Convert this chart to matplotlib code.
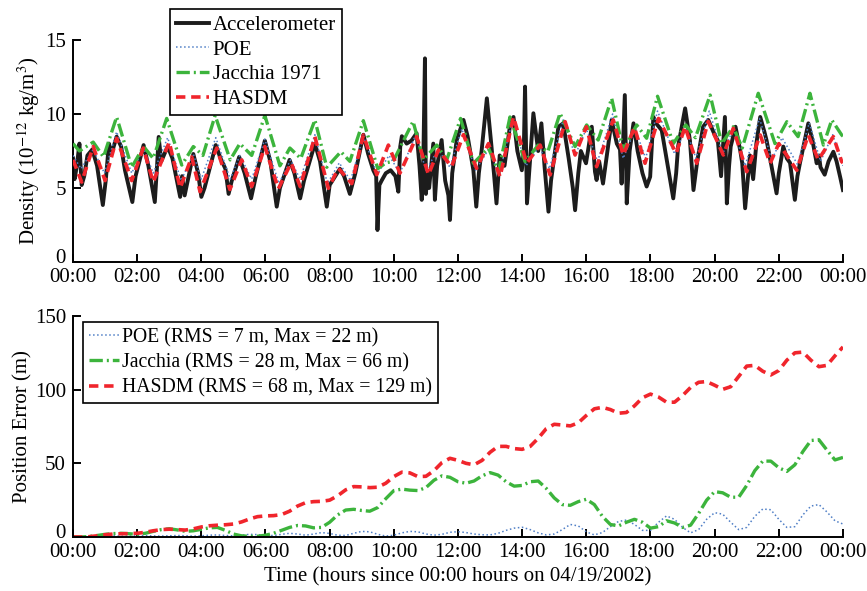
import numpy as np
import matplotlib.pyplot as plt
from matplotlib.transforms import ScaledTranslation

plt.rcParams['font.family'] = ['Liberation Serif', 'DejaVu Serif']
plt.rcParams['mathtext.fontset'] = 'stix'
plt.rcParams['font.size'] = 15

# ---- top panel: density along the orbit (hours, 1e-12 kg/m^3) ----
acc_t = [0.0, 0.05, 0.12, 0.2, 0.27, 0.35, 0.45, 0.6, 0.75, 0.93, 1.02, 1.12, 1.2, 1.36, 1.5,
         1.62, 1.75, 1.85, 1.95, 2.2, 2.35, 2.55, 2.62, 2.67, 2.75, 2.95, 3.1, 3.34, 3.4, 3.48,
         3.75, 3.9, 4.0, 4.1, 4.45, 4.6, 4.75, 4.85, 4.95, 5.18, 5.35, 5.55, 5.7, 5.98, 6.15,
         6.35, 6.45, 6.75, 6.9, 7.08, 7.2, 7.54, 7.7, 7.91, 8.0, 8.32, 8.45, 8.63, 8.8, 9.05,
         9.2, 9.36, 9.45, 9.49, 9.55, 9.62, 9.75, 9.9, 10.05, 10.14, 10.2, 10.25, 10.4, 10.55,
         10.71, 10.8, 10.87, 10.92, 10.97, 11.0, 11.05, 11.1, 11.23, 11.28, 11.35, 11.49, 11.6,
         11.7, 11.75, 11.82, 11.96, 12.17, 12.3, 12.48, 12.57, 12.65, 12.74, 12.9, 13.04, 13.12,
         13.2, 13.3, 13.45, 13.62, 13.73, 13.85, 13.99, 14.05, 14.09, 14.15, 14.25, 14.35, 14.5,
         14.6, 14.7, 14.82, 14.9, 15.13, 15.28, 15.45, 15.58, 15.65, 15.75, 15.83, 15.99, 16.17,
         16.27, 16.32, 16.4, 16.52, 16.79, 16.95, 17.05, 17.1, 17.2, 17.26, 17.35, 17.47, 17.6,
         17.75, 17.88, 17.99, 18.09, 18.2, 18.35, 18.5, 18.71, 18.8, 18.86, 19.08, 19.23, 19.34,
         19.45, 19.64, 19.8, 20.0, 20.1, 20.2, 20.32, 20.38, 20.45, 20.5, 20.65, 20.8, 20.86,
         20.95, 21.05, 21.1, 21.2, 21.3, 21.42, 21.55, 21.62, 21.77, 21.93, 22.0, 22.14, 22.25,
         22.35, 22.5, 22.58, 22.66, 22.92, 23.05, 23.18, 23.25, 23.3, 23.43, 23.55, 23.7, 23.8,
         23.91, 24.0]
acc_rho = [7.0, 5.6, 6.5, 8.0, 5.2, 5.8, 7.2, 7.6, 6.5, 3.85, 5.5, 8.0, 7.3, 8.47, 7.8,
           6.2, 5.0, 4.05, 5.8, 7.9, 6.5, 4.05, 6.5, 8.45, 6.8, 7.8, 7.0, 4.4, 5.8, 4.5,
           7.3, 6.0, 4.4, 5.0, 7.9, 7.0, 6.3, 4.6, 5.5, 7.1, 6.0, 4.3, 5.8, 8.2, 6.8,
           3.74, 5.0, 6.9, 6.0, 4.3, 5.5, 8.0, 6.8, 3.74, 5.2, 6.3, 5.8, 4.6, 6.0, 8.6,
           7.3, 6.2, 5.8, 2.16, 5.2, 5.5, 6.0, 6.2, 5.8, 4.75, 7.8, 8.5, 8.0, 8.2,
           8.7, 6.5, 4.2, 7.0, 13.76, 4.6, 6.0, 5.0, 8.0, 4.2, 6.5, 8.24, 5.5,
           4.5, 2.84, 6.0, 8.24, 9.6, 8.5, 6.2, 3.74, 6.0, 7.6, 11.06, 7.9, 6.0,
           3.96, 7.2, 6.5, 9.2, 9.8, 7.5, 6.2, 7.5, 11.85, 3.96, 7.0, 10.05, 7.5,
           9.37, 6.4, 3.4, 5.5, 9.14, 9.37, 7.0, 5.0, 3.5, 6.0, 7.5, 6.67, 9.14,
           6.1, 5.54, 6.8, 5.3, 9.6, 8.0, 7.6, 5.3, 11.28, 3.96, 7.5, 9.37, 7.5,
           6.0, 5.1, 5.76, 9.8, 9.3, 8.9, 7.0, 4.3, 6.0, 7.8, 10.38, 8.2, 4.86,
           6.7, 9.14, 9.6, 8.6, 8.2, 5.8, 9.8, 3.96, 6.5, 7.8, 9.14, 7.5, 6.67,
           3.63, 6.0, 7.2, 5.6, 8.0, 9.8, 8.8, 8.2, 6.5, 4.64, 6.0, 7.8, 7.0,
           6.7, 4.2, 5.8, 6.7, 9.37, 8.2, 6.67, 7.2, 6.4, 5.9, 6.8, 7.45, 6.8,
           5.76, 4.86]

poe_t = [0.0, 0.25, 0.63, 0.98, 1.36, 1.83, 2.2, 2.5, 2.95, 3.37, 3.75, 4.0, 4.45, 4.9, 5.2,
         5.57, 5.98, 6.42, 6.78, 7.08, 7.54, 7.93, 8.3, 8.65, 9.05, 9.48, 9.85, 10.19, 10.68,
         11.0, 11.38, 11.75, 12.12, 12.55, 12.95, 13.28, 13.7, 14.12, 14.53, 14.85, 15.28,
         15.65, 16.0, 16.35, 16.82, 17.15, 17.52, 17.85, 18.22, 18.75, 19.1, 19.42, 19.83,
         20.25, 20.58, 20.95, 21.4, 21.78, 22.1, 22.58, 22.95, 23.3, 23.68, 24.0]
poe_rho = [7.2, 6.3, 7.6, 6.0, 8.8, 6.0, 7.7, 6.0, 8.4, 5.5, 7.3, 5.6, 8.4, 5.6, 7.2,
           5.6, 8.3, 5.3, 6.9, 5.6, 8.6, 5.3, 6.7, 5.5, 8.5, 5.9, 7.2, 6.0, 8.6,
           6.2, 7.6, 6.4, 9.0, 6.2, 7.6, 5.9, 9.6, 6.5, 7.8, 6.3, 9.6,
           7.2, 9.0, 6.8, 10.0, 7.0, 9.0, 7.0, 10.2, 7.3, 9.0, 7.0, 10.2,
           7.3, 9.0, 6.5, 9.7, 6.9, 8.4, 6.6, 9.4, 6.8, 8.6, 6.5]

jac_t = [0.0, 0.2, 0.63, 0.95, 1.36, 1.83, 2.2, 2.5, 2.92, 3.39, 3.75, 4.05, 4.43, 4.9, 5.2,
         5.57, 5.98, 6.45, 6.76, 7.1, 7.54, 7.91, 8.35, 8.63, 9.05, 9.5, 9.75, 9.98, 10.6,
         10.92, 11.34, 11.65, 12.08, 12.48, 12.95, 13.26, 13.62, 14.09, 14.5, 14.8, 15.18,
         15.65, 16.01, 16.37, 16.79, 17.15, 17.57, 17.88, 18.22, 18.71, 19.1, 19.4, 19.86,
         20.22, 20.58, 20.86, 21.36, 21.88, 22.25, 22.6, 22.97, 23.39, 23.65, 23.96, 24.0]
jac_rho = [8.0, 7.5, 8.1, 7.1, 9.8, 6.4, 7.8, 7.0, 9.7, 6.55, 7.8, 7.2, 9.9, 6.9, 8.0,
           7.2, 9.9, 6.5, 7.7, 7.0, 9.6, 6.4, 7.45, 6.8, 9.55, 6.3, 6.7, 6.8, 9.5,
           6.9, 7.9, 6.9, 9.7, 6.67, 7.7, 6.1, 9.8, 6.78, 7.9, 7.45, 10.05,
           7.8, 9.26, 8.24, 11.06, 7.57, 9.26, 8.36, 11.2, 8.0, 9.26, 8.4, 11.28,
           8.0, 9.14, 7.7, 11.4, 8.0, 9.48, 8.47, 11.4, 7.9, 9.6, 8.58, 8.5]

has_t = [0.0, 0.27, 0.63, 1.0, 1.36, 1.83, 2.19, 2.5, 3.0, 3.34, 3.7, 3.96, 4.48, 4.89, 5.26,
         5.57, 5.98, 6.4, 6.8, 7.08, 7.54, 7.96, 8.27, 8.69, 9.05, 9.47, 9.83, 10.19, 10.71,
         11.08, 11.39, 11.8, 12.17, 12.58, 12.95, 13.31, 13.73, 14.14, 14.56, 14.87, 15.34,
         15.65, 16.0, 16.32, 16.84, 17.15, 17.5, 17.83, 18.25, 18.8, 19.08, 19.44, 19.8,
         20.27, 20.58, 21.0, 21.42, 21.73, 22.0, 22.56, 22.92, 23.23, 23.7, 23.96, 24.0]
has_rho = [6.9, 5.4, 7.8, 5.5, 8.36, 5.5, 7.7, 5.4, 8.1, 5.0, 7.1, 4.75, 7.7, 4.9, 6.9,
           5.1, 7.8, 4.95, 6.7, 5.1, 8.47, 4.98, 6.33, 5.3, 8.58, 5.9, 7.9, 6.0, 8.47,
           5.9, 7.57, 6.44, 8.6, 6.33, 8.0, 5.76, 9.8, 6.67, 7.9, 5.88, 9.48,
           7.23, 9.14, 6.44, 9.6, 7.23, 9.1, 6.67, 9.7, 7.34, 9.14, 6.67, 9.5,
           7.23, 9.03, 6.1, 8.58, 6.67, 8.0, 6.2, 8.58, 6.9, 8.47, 6.78, 6.7]

# ---- bottom panel: position error (m), one value every 15 minutes ----
err_poe = [0, 0, 0.2, 0.5, 0.8, 0.8, 0.6, 0.6,
           0.8, 0.9, 0.7, 0.6, 0.8, 1.0, 0.8, 0.6,
           0.8, 1.2, 1.4, 1.0, 0.8, 1.2, 1.8, 1.6,
           1.0, 1.0, 1.8, 2.5, 2.0, 1.2, 2.0, 3.0,
           2.4, 1.2, 1.0, 2.5, 3.8, 3.5, 1.8, 0.6,
           1.2, 2.8, 3.8, 3.5, 2.0, 1.2, 1.8, 3.2,
           3.6, 3.0, 2.0, 1.5, 1.4, 2.5, 4.5, 6.0,
           6.6, 5.0, 2.8, 1.4, 2.0, 5.0, 8.5, 7.5,
           3.5, 1.4, 3.0, 7.0, 10.5, 11.5, 8.5, 4.5,
           4.5, 10.0, 14.3, 12.0, 6.5, 2.8, 5.0, 12.0,
           16.5, 15.5, 10.0, 5.0, 6.5, 14.0, 19.0, 18.5,
           12.0, 6.5, 7.0, 15.0, 21.0, 22.0, 17.0, 11.0,
           8.8]
err_jac = [0, 0, 0.3, 1.0, 1.8, 2.3, 2.5, 2.2,
           1.8, 2.5, 3.8, 5.0, 5.6, 4.8, 3.8, 4.2,
           5.2, 6.2, 6.5, 4.5, 2.0, 0.8, 0.4, 0.5,
           1.2, 2.5, 4.5, 6.5, 7.8, 7.5, 6.2, 6.5,
           10.0, 15.0, 18.3, 18.8, 18.0, 17.5, 20.0, 26.0,
           31.5, 32.5, 31.8, 31.5, 33.5, 38.5, 41.5, 40.5,
           37.5, 36.5, 38.0, 41.5, 43.7, 42.0, 37.5, 34.5,
           35.0, 37.5, 38.0, 33.0, 26.5, 22.0, 21.5, 24.0,
           25.6, 22.0, 14.0, 8.5, 7.5, 10.0, 12.0, 10.0,
           6.0, 7.0, 11.0, 9.5, 6.5, 8.0, 16.0, 25.0,
           30.8, 30.0, 27.0, 27.0, 35.0, 45.0, 51.5, 51.5,
           47.0, 44.5, 49.0, 58.0, 65.5, 66.0, 59.0, 52.3,
           54.0]
err_has = [0, 0, 0.2, 0.8, 1.5, 2.0, 2.2, 2.3,
           2.5, 3.2, 4.2, 5.0, 5.3, 5.0, 4.7, 5.5,
           6.8, 7.6, 8.0, 8.3, 8.8, 10.2, 12.2, 13.8,
           14.3, 14.5, 15.2, 17.5, 21.0, 23.3, 24.0, 24.2,
           25.0, 28.0, 32.0, 34.2, 34.0, 33.5, 33.8, 36.5,
           41.0, 44.0, 43.5, 41.0, 41.2, 45.0, 50.5, 53.4,
           52.0, 50.0, 49.0, 52.0, 57.5, 61.5, 61.5, 60.0,
           59.5, 61.5, 67.0, 73.5, 76.5, 76.0, 75.4, 77.5,
           82.5, 87.0, 88.0, 86.5, 84.0, 84.5, 89.0, 94.5,
           97.0, 95.0, 91.5, 91.5, 96.0, 101.5, 105.0, 105.5,
           103.0, 100.2, 102.0, 109.0, 116.0, 116.5, 112.5, 110.0,
           113.0, 120.0, 125.0, 125.5, 120.0, 115.6, 116.5, 123.0,
           129.0]
err_t = np.linspace(0, 24, len(err_has))

hours = list(range(0, 25, 2))
hour_labels = ["%02d:00" % (h % 24) for h in hours]

c_acc = '#1c1c1c'
c_poe = '#4f7fc6'
c_jac = '#3cb43c'
c_has = '#f0252c'
jac_dash = (4, 1.2, 0.6, 1.2)
has_dash = (2.6, 1.6)

fig = plt.figure(figsize=(8.67, 5.91), dpi=100)
ax1 = fig.add_axes([0.0842, 0.5567, 0.8881, 0.3756])
ax2 = fig.add_axes([0.0842, 0.0914, 0.8881, 0.3739])

ax1.plot(acc_t, acc_rho, color=c_acc, lw=2.8, label='Accelerometer', zorder=2)
ax1.plot(poe_t, poe_rho, color=c_poe, lw=1.1, ls=':', label='POE', zorder=3)
ax1.plot(jac_t, jac_rho, color=c_jac, lw=2.4, dashes=jac_dash, label='Jacchia 1971', zorder=4)
ax1.plot(has_t, has_rho, color=c_has, lw=2.6, dashes=has_dash, label='HASDM', zorder=5)

ax2.plot(err_t, err_poe, color=c_poe, lw=1.1, ls=':', label='POE (RMS = 7 m, Max = 22 m)')
ax2.plot(err_t, err_jac, color=c_jac, lw=2.4, dashes=jac_dash,
         label='Jacchia (RMS = 28 m, Max = 66 m)')
ax2.plot(err_t, err_has, color=c_has, lw=2.6, dashes=has_dash,
         label='HASDM (RMS = 68 m, Max = 129 m)')

ax1.set_ylim(0, 15)
ax1.set_yticks([0, 5, 10, 15])
ax2.set_ylim(0, 150)
ax2.set_yticks([0, 50, 100, 150])

for ax in (ax1, ax2):
    ax.set_xlim(0, 24)
    ax.set_xticks(hours)
    ax.set_xticklabels(hour_labels)
    ax.spines['top'].set_visible(False)
    ax.spines['right'].set_visible(False)
    ax.spines['left'].set_linewidth(1.4)
    ax.spines['bottom'].set_linewidth(1.4)
    ax.tick_params(direction='in', length=6, width=1.4, labelsize=15, pad=5)
    ax.tick_params(axis='x', pad=4)
    # lift the zero label a little so it clears the first hour label
    zero = ax.get_yticklabels()[0]
    zero.set_transform(zero.get_transform() + ScaledTranslation(0, 4 / 72, fig.dpi_scale_trans))

ax1.set_ylabel('Density (10$^{-12}$ kg/m$^3$)', fontsize=15, labelpad=2)
ax2.set_ylabel('Position Error (m)', fontsize=15, labelpad=2)
ax2.set_xlabel('Time (hours since 00:00 hours on 04/19/2002)', fontsize=15, labelpad=4)
fig.align_ylabels([ax1, ax2])

leg_kw = dict(loc='upper left', frameon=True, fancybox=False, borderaxespad=0,
              handletextpad=0.2, borderpad=0.3, bbox_transform=fig.transFigure)
leg1 = ax1.legend(bbox_to_anchor=(170 / 867, 1 - 9 / 591), fontsize=15,
                  handlelength=1.55, labelspacing=0.25, **leg_kw)
leg2 = ax2.legend(bbox_to_anchor=(83 / 867, 1 - 322 / 591), fontsize=14.2,
                  handlelength=1.5, labelspacing=0.3, **leg_kw)
for leg in (leg1, leg2):
    leg.get_frame().set_edgecolor('black')
    leg.get_frame().set_linewidth(1.2)
    leg.get_frame().set_alpha(1)

fig.savefig('out.png', dpi=100)
